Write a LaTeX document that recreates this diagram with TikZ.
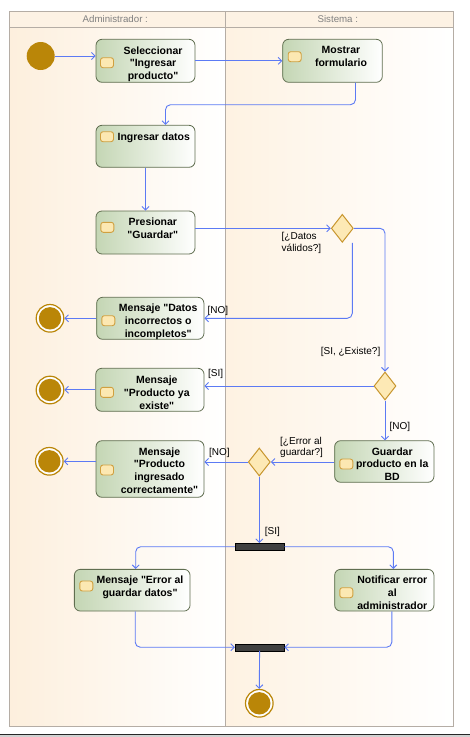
\documentclass[tikz,border=0pt]{standalone}
\usepackage{fontspec}
\setmainfont{Liberation Sans}
\newfontfamily\arial{Liberation Sans}
\usetikzlibrary{arrows.meta,shapes.geometric}
\definecolor{azulflujo}{RGB}{92,122,244}
\definecolor{oro}{RGB}{186,134,8}
\definecolor{verdeborde}{RGB}{96,110,80}
\definecolor{verdeaccion}{RGB}{196,214,180}
\definecolor{iconofondo}{RGB}{252,232,178}
\definecolor{iconoborde}{RGB}{208,160,64}
\definecolor{decfondo}{RGB}{253,233,181}
\definecolor{decborde}{RGB}{200,150,46}
\definecolor{barragris}{RGB}{64,64,64}
\definecolor{bordecarril}{RGB}{181,173,165}
\definecolor{cabecera}{RGB}{253,242,228}
\definecolor{carrilizq}{RGB}{253,239,221}
\definecolor{carrilder}{RGB}{254,242,226}
\definecolor{grisletra}{RGB}{128,128,128}
\begin{document}
\begin{tikzpicture}[x=1pt,y=-1pt,
  accion/.style={draw=verdeborde, line width=0.8pt, rounded corners=6pt, left color=verdeaccion, right color=white, inner sep=0pt},
  texto/.style={font=\arial\bfseries\fontsize{10.5}{12.9}\selectfont, align=center, anchor=north, inner sep=0pt},
  icono/.style={draw=iconoborde, fill=iconofondo, line width=0.9pt, rounded corners=2.5pt, minimum width=13pt, minimum height=10pt, inner sep=0pt},
  decision/.style={diamond, draw=decborde, fill=decfondo, line width=1pt, minimum width=22pt, minimum height=28pt, inner sep=0pt},
  inicio/.style={circle, fill=oro, minimum size=28pt, inner sep=0pt},
  fin/.style={circle, draw=oro, line width=1.2pt, fill=white, minimum size=27.6pt, inner sep=0pt,
    path picture={\fill[oro] (path picture bounding box.center) circle (11.2pt);}},
  barra/.style={draw=black, fill=barragris, minimum width=49pt, minimum height=7pt, inner sep=0pt},
  flujo/.style={draw=azulflujo, line width=0.9pt, rounded corners=5pt, -{Straight Barb[length=3.5pt,width=7pt]}},
  guarda/.style={font=\arial\fontsize{10}{11.6}\selectfont, inner sep=0pt, align=left},
  carril/.style={font=\arial\fontsize{9.7}{11}\selectfont, text=grisletra, inner sep=0pt}]
\useasboundingbox (0,0) rectangle (470,737);
\fill[white] (0,0) rectangle (470,737);
\shade[left color=carrilizq, right color=white] (9.5,27.3) rectangle (225,726);
\shade[left color=carrilder, right color=white] (225,27.3) rectangle (453.5,726);
\fill[cabecera] (9.5,11.5) rectangle (453.5,27.3);
\draw[bordecarril, line width=0.9pt] (9.5,11.5) rectangle (453.5,726);
\draw[bordecarril, line width=0.9pt] (9.5,27.3) -- (453.5,27.3);
\draw[bordecarril, line width=0.9pt] (225,11.5) -- (225,726);
\fill[black!18] (0,734.5) rectangle (470,737);
\draw[black!85, line width=1pt] (0,734) -- (470,734);
\node[carril] (c1) at (115.3,19.3) {Administrador :};
\node[carril] (c2) at (337.8,19.3) {Sistema :};

\node[inicio] (ini) at (40.7,56) {};
\node[accion, minimum width=99pt, minimum height=43pt] (sel) at (145.5,60.8) {};
\node[icono] (sel-i) at (107,62.7) {};
\node[texto] (sel-t) at (153,46.2) {Seleccionar\\"Ingresar\\producto"};
\node[accion, minimum width=99.6pt, minimum height=43pt] (most) at (332.5,60.8) {};
\node[icono] (most-i) at (294.7,56.7) {};
\node[texto] (most-t) at (341,46.2) {Mostrar\\formulario};
\node[accion, minimum width=99pt, minimum height=42pt] (ing) at (145.5,146.3) {};
\node[icono] (ing-i) at (107,136.7) {};
\node[texto] (ing-t) at (153.8,132.9) {Ingresar datos};
\node[accion, minimum width=99pt, minimum height=43pt] (pres) at (145.5,232.5) {};
\node[icono] (pres-i) at (107.3,227.3) {};
\node[texto] (pres-t) at (152.8,217.9) {Presionar\\"Guardar"};
\node[decision] (d1) at (342.3,228.3) {};
\node[accion, minimum width=107.3pt, minimum height=42pt] (minc) at (150.3,318.3) {};
\node[icono] (minc-i) at (108.3,320.7) {};
\node[texto] (minc-t) at (158.2,303.9) {Mensaje "Datos\\incorrectos o\\incompletos"};
\node[fin] (fin1) at (50,318.3) {};
\node[decision] (d2) at (385,386) {};
\node[accion, minimum width=108.3pt, minimum height=43pt] (mexi) at (149.9,389.8) {};
\node[icono] (mexi-i) at (107,392.3) {};
\node[texto] (mexi-t) at (156.8,375.5) {Mensaje\\"Producto ya\\existe"};
\node[fin] (fin2) at (50,390) {};
\node[accion, minimum width=99.3pt, minimum height=41.6pt] (guar) at (384.3,461.5) {};
\node[icono] (guar-i) at (346.3,464) {};
\node[texto] (guar-t) at (392.2,447.2) {Guardar\\producto en la\\BD};
\node[decision] (d3) at (259.3,462) {};
\node[accion, minimum width=108pt, minimum height=56.6pt] (mcor) at (150,469) {};
\node[icono] (mcor-i) at (107,470) {};
\node[texto] (mcor-t) at (159.5,447.2) {Mensaje\\"Producto\\ingresado\\correctamente"};
\node[fin] (fin3) at (49.3,461.3) {};
\node[barra] (fork) at (259.6,546.7) {};
\node[accion, minimum width=115.7pt, minimum height=41.7pt] (merr) at (132.2,590.2) {};
\node[icono] (merr-i) at (86.3,586) {};
\node[texto] (merr-t) at (140,575.5) {Mensaje "Error al\\guardar datos"};
\node[accion, minimum width=99.3pt, minimum height=41.7pt] (noti) at (384.3,590.2) {};
\node[icono] (noti-i) at (346.3,592.7) {};
\node[texto] (noti-t) at (392.3,575.5) {Notificar error\\al\\administrador};
\node[barra] (join) at (259.6,647.2) {};
\node[fin] (fin4) at (259.3,703.3) {};

\draw[flujo] (ini.east) -- (ini.east -| sel.west);
\draw[flujo] (sel.east) -- (most.west);
\draw[flujo] ([xshift=23pt]most.south) -- ++(0,22) -| ([xshift=20pt]ing.north);
\draw[flujo] (ing.south) -- (pres.north);
\draw[flujo] (pres.east |- d1.west) -- (d1.west);
\draw[flujo] ([xshift=10pt]d1.south) |- (minc.east);
\draw[flujo] (d1.east) -| (d2.north);
\draw[flujo] (d2.west) -- (d2.west -| mexi.east);
\draw[flujo] (d2.south) -- (d2.south |- guar.north);
\draw[flujo] (guar.west |- d3.east) -- (d3.east);
\draw[flujo] (d3.west) -- (d3.west -| mcor.east);
\draw[flujo] (d3.south) -- (d3.south |- fork.north);
\draw[flujo] (fork.west) -| ([xshift=3.5pt]merr.north);
\draw[flujo] (fork.east) -| ([xshift=9pt]noti.north);
\draw[flujo] ([xshift=3pt]merr.south) |- (join.west);
\draw[flujo] ([xshift=7.5pt]noti.south) |- (join.east);
\draw[flujo] (join.south) -- (fin4.north);
\draw[flujo] (minc.west) -- (fin1.east);
\draw[flujo] (mexi.west) -- (mexi.west -| fin2.east);
\draw[flujo] (mcor.west |- fin3.east) -- (fin3.east);

\node[guarda, anchor=north west] (g1) at (281.5,232.5) {[¿Datos\\válidos?]};
\node[guarda, anchor=west] (g2) at (207.5,310.7) {[NO]};
\node[guarda, anchor=east] (g3) at (380.5,352.3) {[SI, ¿Existe?]};
\node[guarda, anchor=west] (g4) at (208,374.3) {[SI]};
\node[guarda, anchor=west] (g5) at (389.3,427) {[NO]};
\node[guarda, anchor=north west] (g6) at (280,436.7) {[¿Error al\\guardar?]};
\node[guarda, anchor=west] (g7) at (209,452.7) {[NO]};
\node[guarda, anchor=west] (g8) at (264.7,531.7) {[SI]};
\end{tikzpicture}
\end{document}
